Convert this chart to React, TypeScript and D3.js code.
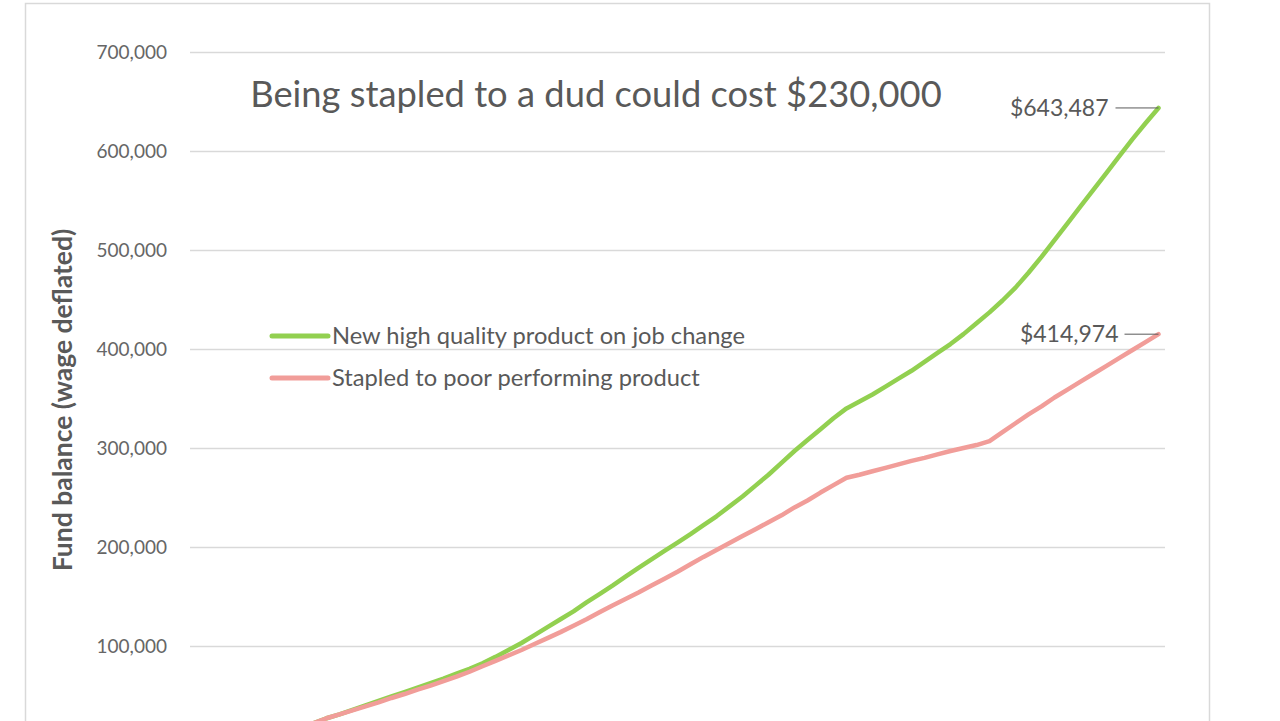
import * as d3 from 'd3';

// 75 annual points (x labels are cropped out of the picture)
const years = d3.range(1, 76).map(String);

// fund balance, $ thousands (wage deflated)
const highQuality = [
  3, 5.5, 8, 10, 12, 14, 16, 18, 20, 22,
  27, 31, 35.5, 40, 44.5, 49, 53.5, 58, 62.5, 67,
  72, 77, 82.5, 89, 96, 103, 111, 119, 127, 135,
  144, 152.5, 161, 170, 179, 187.5, 196, 204.5, 213, 222,
  231, 241, 251, 262, 273, 285, 297, 308, 319, 330,
  340, 347, 354, 362, 370, 378, 387, 396, 405, 415,
  426, 437, 449, 462, 477, 493, 510, 527, 544, 561,
  578, 595, 612, 628, 643.487,
];

const stapled = [
  3, 5.5, 8, 10, 12, 14, 16, 18, 20, 22,
  27, 31, 35, 39, 43, 47.5, 51.5, 56, 60, 64.5,
  69, 74, 79.5, 85, 90.5, 96, 102, 108, 114, 120.5,
  127, 134, 141, 147.5, 154, 161, 168, 175, 182.5, 190,
  197, 204, 211, 218, 225, 232, 240, 247, 255, 262.5,
  270, 273, 276.5, 280, 283.5, 287, 290, 293.5, 297, 300,
  303, 307, 316, 325, 334, 342, 351, 359, 367, 375,
  383, 391, 399, 407, 414.974,
];

const yTicks = [100000, 200000, 300000, 400000, 500000, 600000, 700000];

const seriesNames = ['New high quality product on job change', 'Stapled to poor performing product'];
const seriesColors = ['#92D050', '#F19D99'];
const endLabels = ['$643,487', '$414,974'];

const FONT = 'Lato, "Open Sans", sans-serif';
const GREY = '#595959';

export default function App() {
  const x = d3.scalePoint<string>().domain(years).range([190, 1165]).padding(0.5);
  const y = d3.scaleLinear().domain([0, 700000]).range([745, 52]);

  const line = d3.line<number>()
    .x((_, i) => x(years[i])!)
    .y(d => y(d * 1000));

  const series = [highQuality, stapled];
  const fmt = d3.format(',');

  return (
    <svg width={1280} height={721} style={{ position: 'absolute', top: 0, left: 0, background: '#fff' }}>
      <rect x={25.5} y={3.5} width={1184} height={800} fill="#fff" stroke="#D9D9D9" strokeWidth={1.5} />

      {yTicks.map(t => (
        <g key={t}>
          <line x1={190} x2={1165} y1={Math.round(y(t)) + 0.5} y2={Math.round(y(t)) + 0.5} stroke="#D9D9D9" strokeWidth={1.5} />
          <text x={167} y={y(t)} dy="0.35em" textAnchor="end" fontFamily={FONT} fontSize={19} fill="#666">
            {fmt(t)}
          </text>
        </g>
      ))}

      <text
        transform="translate(72,400) rotate(-90)"
        textAnchor="middle"
        fontFamily={FONT}
        fontSize={26.5}
        fontWeight="bold"
        fill={GREY}
      >
        Fund balance (wage deflated)
      </text>

      <text x={596} y={94} dy="0.35em" textAnchor="middle" fontFamily={FONT} fontSize={36.3} fill={GREY}>
        Being stapled to a dud could cost $230,000
      </text>

      {series.map((s, i) => (
        <path key={i} d={line(s)!} fill="none" stroke={seriesColors[i]} strokeWidth={4.5} strokeLinejoin="round" strokeLinecap="round" />
      ))}

      {series.map((s, i) => {
        const ex = x(years[years.length - 1])!;
        const ey = y(s[s.length - 1] * 1000);
        return (
          <g key={'lab' + i}>
            <line x1={ex - (i === 0 ? 43 : 34)} x2={ex} y1={ey} y2={ey} stroke={GREY} strokeWidth={1} />
            <text x={ex - (i === 0 ? 50 : 40)} y={ey} dy="0.35em" textAnchor="end" fontFamily={FONT} fontSize={23} fill={GREY}>
              {endLabels[i]}
            </text>
          </g>
        );
      })}

      {seriesNames.map((n, i) => (
        <g key={n} transform={`translate(272,${336 + i * 42})`}>
          <line x1={0} x2={56} y1={0} y2={0} stroke={seriesColors[i]} strokeWidth={5} strokeLinecap="round" />
          <text x={60} y={0} dy="0.35em" fontFamily={FONT} fontSize={23.7} fill={GREY}>
            {n}
          </text>
        </g>
      ))}
    </svg>
  );
}
